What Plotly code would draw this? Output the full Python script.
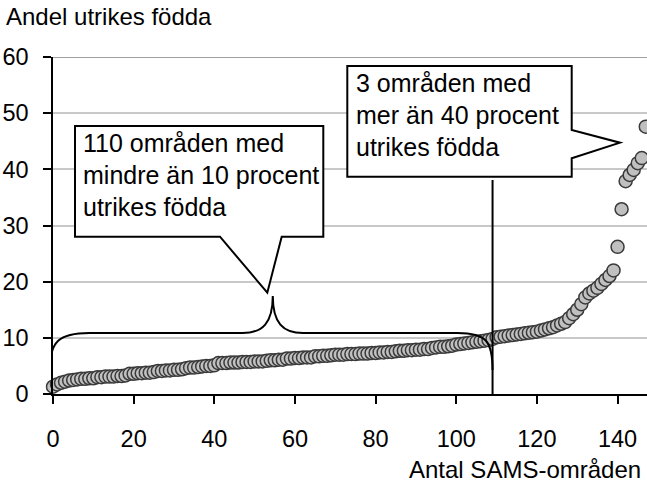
import plotly.graph_objects as go

# ---------------- data ----------------
andel_utrikes_fodda = [
    1.3, 1.7, 2.0, 2.2, 2.4, 2.5, 2.6, 2.7, 2.7, 2.8,
    2.8, 3.0, 3.0, 3.1, 3.1, 3.1, 3.2, 3.2, 3.3, 3.6,
    3.6, 3.7, 3.7, 3.8, 3.8, 3.9, 4.1, 4.1, 4.2, 4.2,
    4.3, 4.3, 4.4, 4.6, 4.7, 4.7, 4.8, 4.9, 5.0, 5.0,
    5.1, 5.5, 5.5, 5.5, 5.6, 5.6, 5.6, 5.7, 5.7, 5.7,
    5.8, 5.8, 5.8, 5.9, 6.0, 6.0, 6.1, 6.1, 6.3, 6.3,
    6.4, 6.4, 6.5, 6.5, 6.5, 6.7, 6.7, 6.8, 6.8, 6.9,
    7.0, 7.0, 7.0, 7.1, 7.1, 7.1, 7.2, 7.2, 7.2, 7.3,
    7.3, 7.4, 7.4, 7.5, 7.5, 7.6, 7.7, 7.7, 7.8, 7.8,
    7.9, 7.9, 8.0, 8.0, 8.2, 8.3, 8.4, 8.4, 8.5, 8.6,
    8.8, 8.9, 9.0, 9.1, 9.2, 9.3, 9.4, 9.5, 9.6, 9.8,
    10.1, 10.2, 10.3, 10.4, 10.5, 10.6, 10.7, 10.8, 10.9, 11.0,
    11.1, 11.3, 11.5, 11.7, 11.9, 12.2, 12.5, 12.8, 13.5, 14.2,
    15.0, 16.0, 17.2, 17.9, 18.4, 18.9, 19.6, 20.3, 21.0, 22.0,
    26.2, 32.9, 37.9, 39.0, 39.9, 41.1, 42.0, 47.6,
]
antal_omraden = list(range(len(andel_utrikes_fodda)))

x_ticks = [0, 20, 40, 60, 80, 100, 120, 140]
y_ticks = [0, 10, 20, 30, 40, 50, 60]

y_title = "Andel utrikes födda"
x_title = "Antal SAMS-områden"
callout_left = ["110 områden med", "mindre än 10 procent", "utrikes födda"]
callout_right = ["3 områden med", "mer än 40 procent", "utrikes födda"]

# ---------------- layout geometry ----------------
W, H = 647, 483
L, R, T, B = 53, 647, 57, 394
XR = [0, 147.3]
YR = [0, 60]
FONT = "Liberation Sans, Arial, sans-serif"
FS_TICK = 23.5
FS_TITLE = 24
FS_CALL = 25


def dx(px):
    return XR[0] + (px - L) / (R - L) * (XR[1] - XR[0])


def dy(py):
    return YR[0] + (B - py) / (B - T) * (YR[1] - YR[0])


def px_(px):
    return (px - L) / (R - L)


def py_(py):
    return (B - py) / (B - T)


fig = go.Figure()
fig.add_trace(go.Scatter(
    x=antal_omraden, y=andel_utrikes_fodda, mode="markers",
    marker=dict(size=13, color="#c0c0c0", line=dict(color="#3a3a3a", width=1.5)),
    cliponaxis=False, showlegend=False, hoverinfo="x+y",
))

shapes = []
# top border line at 60
shapes.append(dict(type="line", xref="paper", yref="y", x0=0, x1=1, y0=60, y1=60,
                   line=dict(color="#808080", width=1.5), layer="below"))

# brace over the areas under 10 percent
n_below = sum(1 for v in andel_utrikes_fodda if v < 10)
xs = antal_omraden[0]
xe = antal_omraden[n_below - 1]
mid = (xs + xe) / 2
lvl, end, tip = dy(333), dy(370), dy(296)
path = (f"M {xs-0.8},{end} C {xs-0.8},{lvl-1.5} {xs+1.5},{lvl} {xs+9},{lvl} "
        f"L {mid-7.5},{lvl} C {mid-2.5},{lvl} {mid},{lvl+1.8} {mid},{tip} "
        f"C {mid},{lvl+1.8} {mid+2.5},{lvl} {mid+7.5},{lvl} "
        f"L {xe-8.7},{lvl} C {xe-1.5},{lvl} {xe},{lvl-1.5} {xe},{end}")
shapes.append(dict(type="path", xref="x", yref="y", path=path,
                   line=dict(color="black", width=2)))

# vertical threshold line
shapes.append(dict(type="line", xref="x", yref="y", x0=xe, x1=xe, y0=0, y1=dy(180),
                   line=dict(color="black", width=2)))


def poly(pts):
    s = "M " + " L ".join(f"{dx(a)},{dy(b)}" for a, b in pts) + " Z"
    return s


left_box = [(75, 126), (323.3, 126), (323.3, 236.7), (281.7, 236.7), (267.3, 292.7),
            (220, 236.7), (75, 236.7)]
right_box = [(347.3, 66), (571.7, 66), (571.7, 130), (620, 142.7), (571.7, 158.3),
             (571.7, 176.7), (347.3, 176.7)]
for pts in (left_box, right_box):
    shapes.append(dict(type="path", xref="x", yref="y", path=poly(pts),
                       fillcolor="white", line=dict(color="black", width=2)))

annotations = []
for i, t in enumerate(callout_left):
    annotations.append(dict(text=t, xref="paper", yref="paper", x=px_(81), y=py_(143.3 + 32 * i),
                            xanchor="left", yanchor="middle", showarrow=False,
                            font=dict(family=FONT, size=FS_CALL, color="black")))
for i, t in enumerate(callout_right):
    annotations.append(dict(text=t, xref="paper", yref="paper", x=px_(354), y=py_(83.3 + 31.7 * i),
                            xanchor="left", yanchor="middle", showarrow=False,
                            font=dict(family=FONT, size=FS_CALL, color="black")))
annotations.append(dict(text=y_title, xref="paper", yref="paper", x=px_(4), y=py_(17),
                        xanchor="left", yanchor="middle", showarrow=False,
                        font=dict(family=FONT, size=FS_TITLE, color="black")))
annotations.append(dict(text=x_title, xref="paper", yref="paper", x=px_(643), y=py_(469),
                        xanchor="right", yanchor="middle", showarrow=False,
                        font=dict(family=FONT, size=FS_TITLE, color="black")))

fig.update_layout(
    width=W, height=H,
    margin=dict(l=L, r=W - R, t=T, b=H - B, pad=0),
    paper_bgcolor="white", plot_bgcolor="white",
    shapes=shapes, annotations=annotations,
    font=dict(family=FONT, size=FS_TICK, color="black"),
    xaxis=dict(range=XR, tickvals=x_ticks, ticktext=[str(v) for v in x_ticks],
               showgrid=False, zeroline=False, showline=True, linecolor="black", linewidth=1.5,
               ticks="outside", ticklen=8, tickwidth=1.5, tickcolor="black",
               tickfont=dict(family=FONT, size=FS_TICK, color="black"), ticklabelstandoff=15),
    yaxis=dict(range=YR, tickvals=y_ticks, ticktext=[str(v) for v in y_ticks],
               showgrid=True, gridcolor="#c8c8c8", gridwidth=1.5, zeroline=False,
               showline=True, linecolor="black", linewidth=1.5,
               ticks="outside", ticklen=8, tickwidth=1.5, tickcolor="black",
               tickfont=dict(family=FONT, size=FS_TICK, color="black"), ticklabelstandoff=10),
)

fig.write_html("out.html", config={"displayModeBar": False},
               post_script="document.body.style.margin='0';document.body.style.padding='0';document.body.style.overflow='hidden';")
